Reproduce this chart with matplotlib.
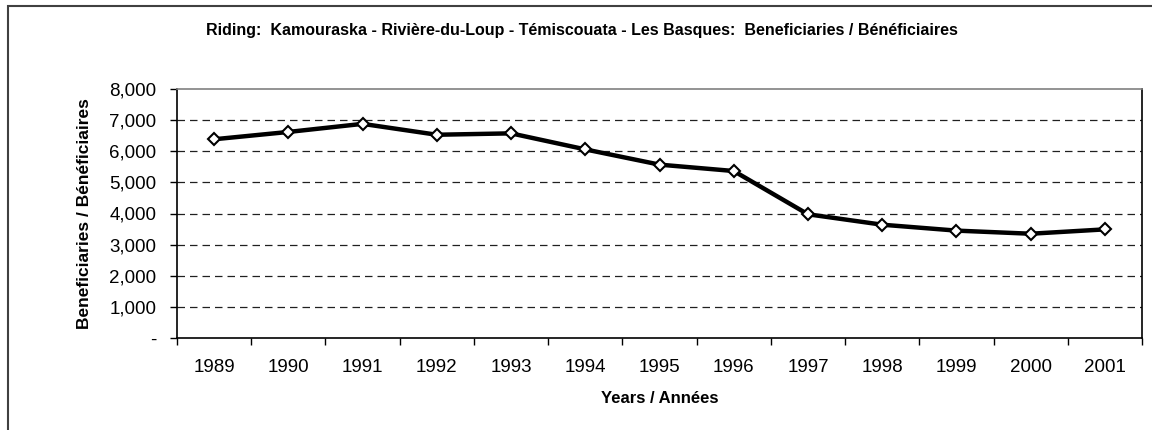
import numpy as np
import matplotlib
matplotlib.use("Agg")
import matplotlib.pyplot as plt
from matplotlib.ticker import FuncFormatter, FixedLocator

plt.rcParams['font.family'] = ['Liberation Sans', 'DejaVu Sans']

# --- data
years = ["1989", "1990", "1991", "1992", "1993", "1994", "1995",
         "1996", "1997", "1998", "1999", "2000", "2001"]
beneficiaries = [6385, 6620, 6880, 6530, 6575, 6060, 5570,
                 5365, 3975, 3640, 3450, 3350, 3490]
y_ticks = [0, 1000, 2000, 3000, 4000, 5000, 6000, 7000, 8000]

title = "Riding:  Kamouraska - Rivière-du-Loup - Témiscouata - Les Basques:  Beneficiaries / Bénéficiaires"
xlabel = "Years / Années"
ylabel = "Beneficiaries / Bénéficiaires"


def thousands(v, pos):
    # Excel style: zero shown as a dash
    if v == 0:
        return "-"
    return "{:,.0f}".format(v)


fig = plt.figure(figsize=(11.52, 4.30), dpi=100)
# outer chart frame (only left and top edges fall inside the image)
frame = plt.Rectangle((0.007, -0.1), 1.2, 1.086, transform=fig.transFigure,
                      fill=False, edgecolor="#404040", linewidth=1.5)
fig.patches.append(frame)

ax = fig.add_axes([177 / 1152, 1 - 338 / 430, (1142 - 177) / 1152, (338 - 89) / 430])

x = np.arange(len(years))
ax.plot(x, beneficiaries, color="black", linewidth=3.2, marker="D", markersize=6.5,
        markerfacecolor="white", markeredgecolor="black", markeredgewidth=1.5,
        zorder=3)

ax.set_xlim(-0.5, len(years) - 0.5)
ax.set_ylim(0, 8000)

ax.set_yticks(y_ticks)
ax.yaxis.set_major_formatter(FuncFormatter(thousands))
for v in y_ticks[1:-1]:
    ax.axhline(v, color="#202020", linewidth=0.9, linestyle=(0, (6, 4)), zorder=1)

# category axis: labels centred, tick marks between categories
ax.set_xticks(x)
ax.set_xticklabels(years)
ax.xaxis.set_minor_locator(FixedLocator(np.arange(-0.5, len(years), 1.0)))
ax.tick_params(axis="x", which="major", length=0, pad=15, labelsize=13.5)
ax.tick_params(axis="x", which="minor", length=5, width=1, direction="out")
ax.tick_params(axis="y", which="major", length=5, width=1, direction="out",
               labelsize=13.5, pad=10)

for side in ["left", "bottom", "right"]:
    ax.spines[side].set_color("black")
    ax.spines[side].set_linewidth(1.2)
ax.spines["top"].set_color("#808080")
ax.spines["top"].set_linewidth(1.2)

ax.set_xlabel(xlabel, fontsize=12, fontweight="bold")
ax.xaxis.set_label_coords(0.5, -0.213)
ax.set_ylabel(ylabel, fontsize=12.5, fontweight="bold")
ax.yaxis.set_label_coords(-0.088, 0.5)
fig.text(0.5 + 0.005, 1 - 31 / 430, title, ha="center", va="center",
         fontsize=11.5, fontweight="bold")

fig.savefig("out.png", dpi=100)
